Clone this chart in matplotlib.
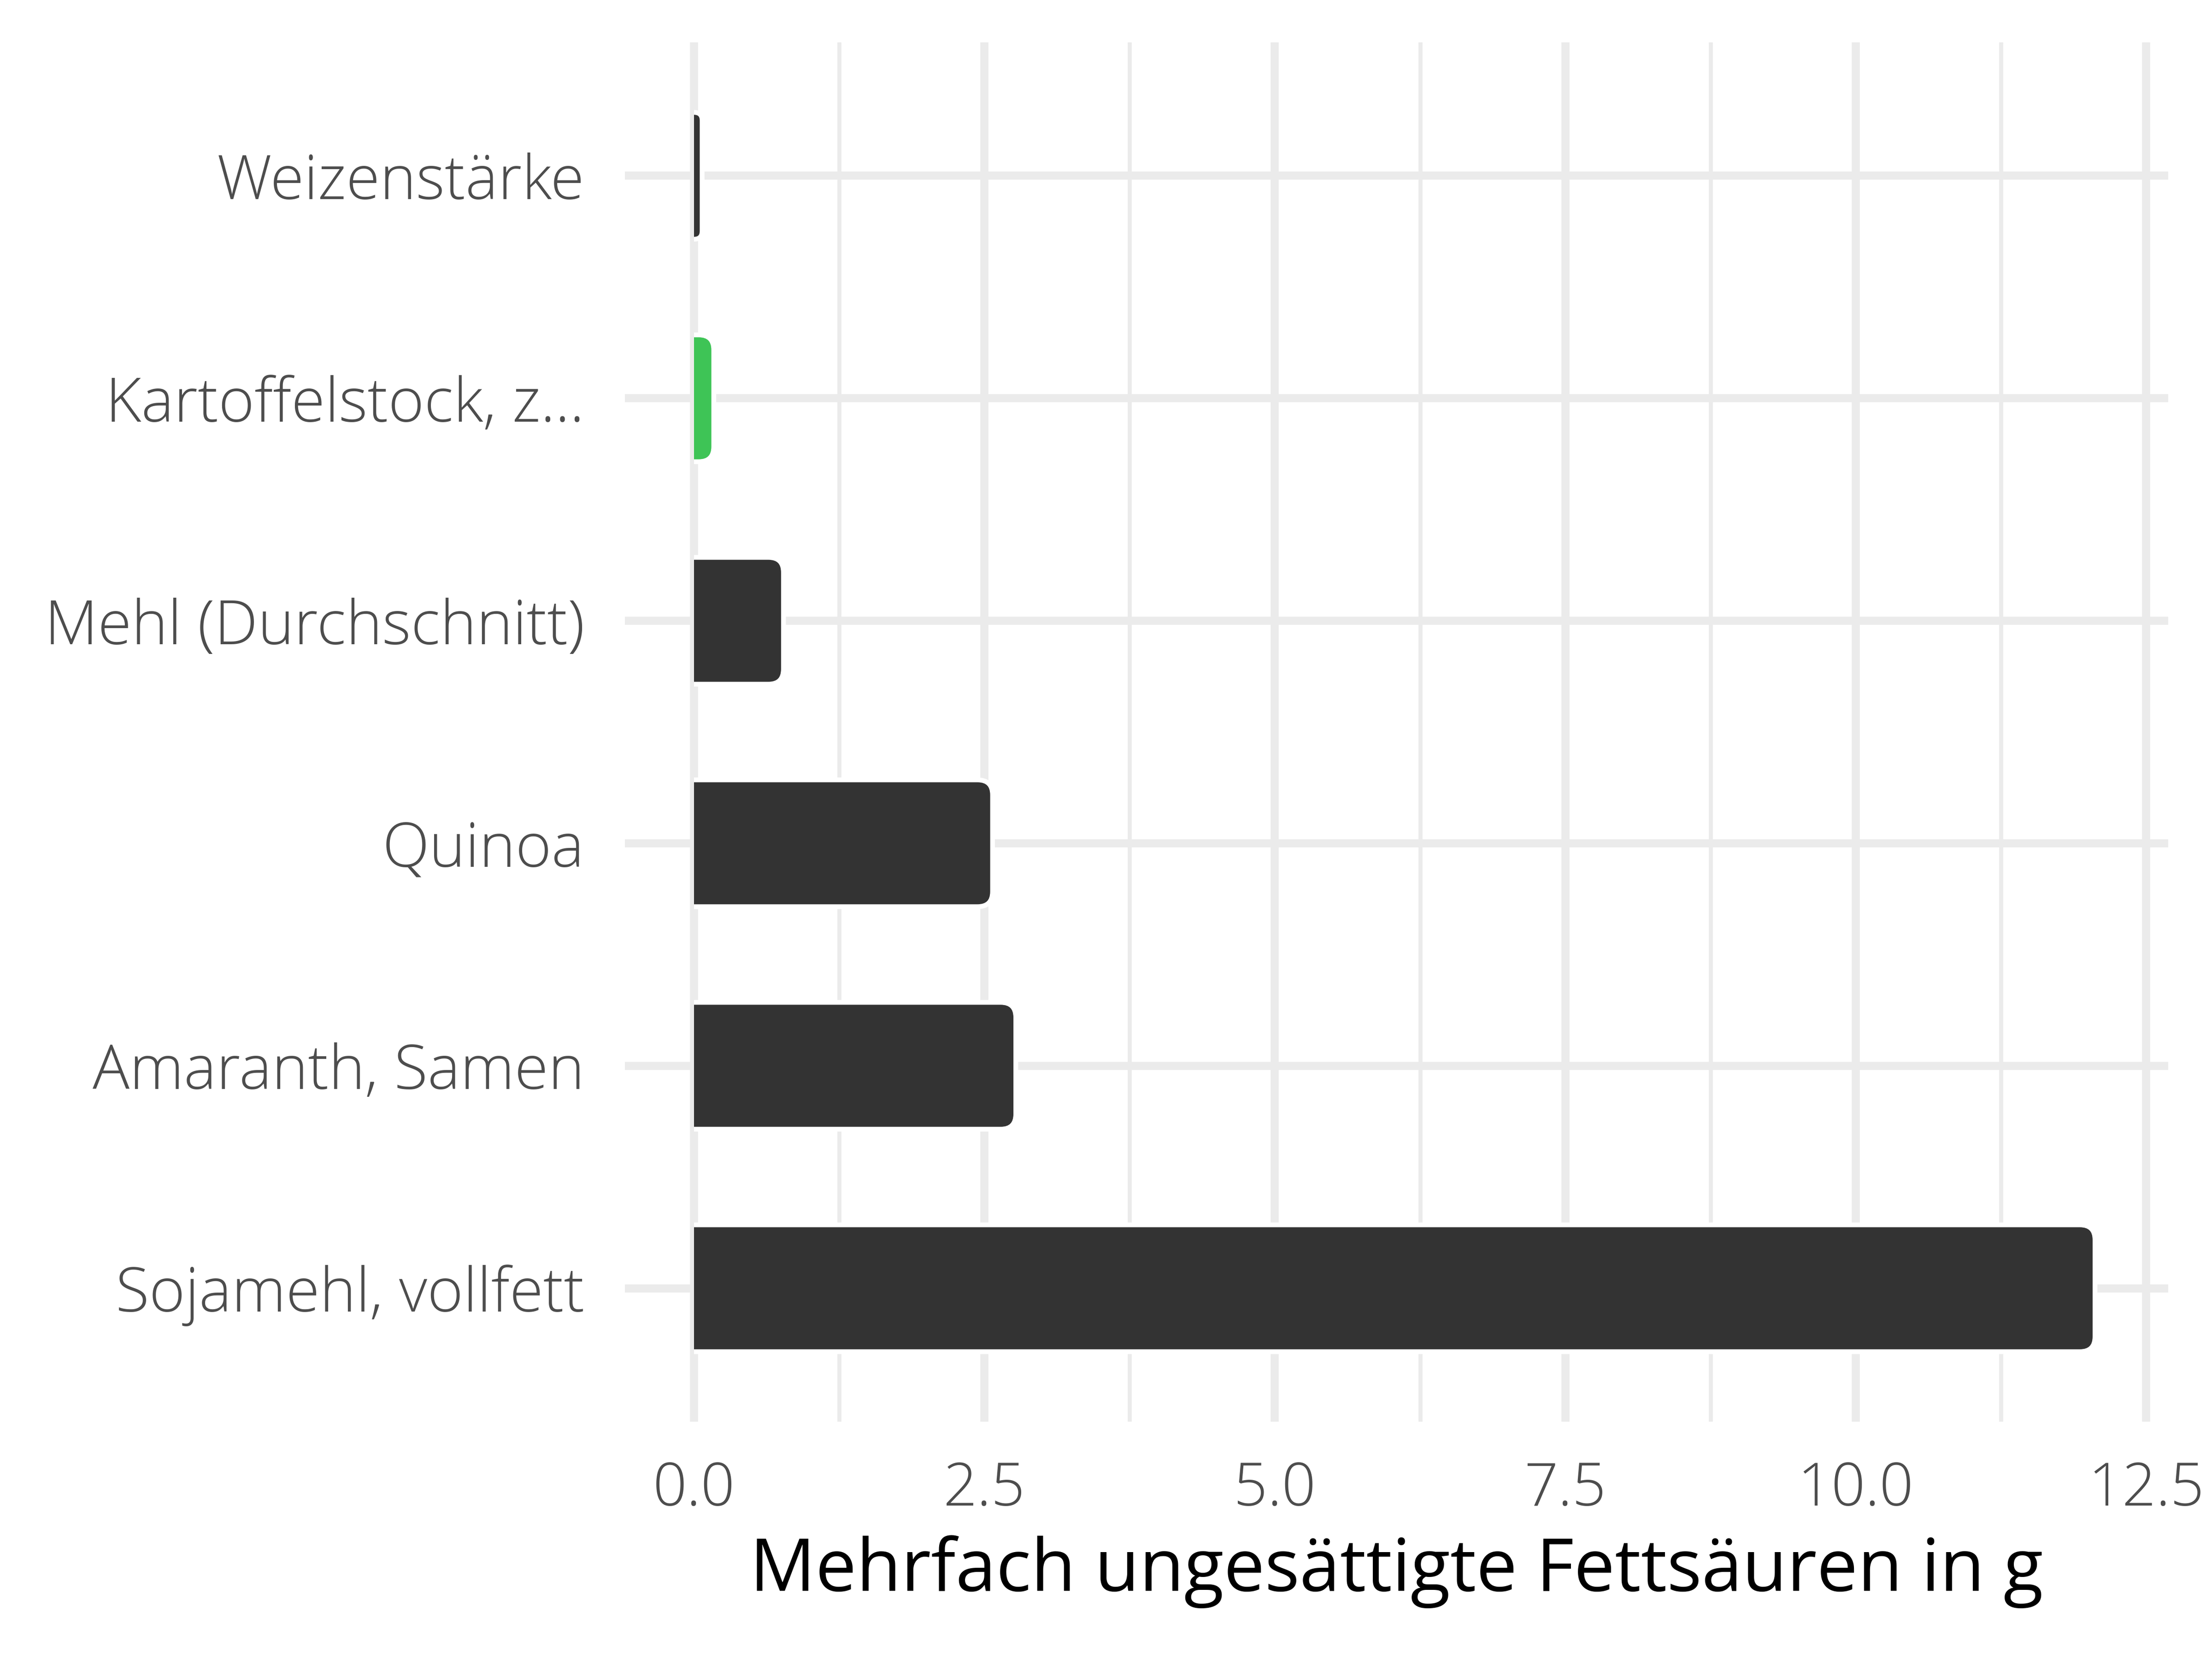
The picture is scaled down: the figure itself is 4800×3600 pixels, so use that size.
import matplotlib.pyplot as plt
from matplotlib.patches import FancyBboxPatch, Rectangle
from matplotlib.ticker import MultipleLocator

# Data (top to bottom as in the chart)
foods = ["Weizenstärke", "Kartoffelstock, z...", "Mehl (Durchschnitt)",
         "Quinoa", "Amaranth, Samen", "Sojamehl, vollfett"]
values = [0.07, 0.17, 0.77, 2.57, 2.77, 12.06]
colors = ["#333333", "#3EC456", "#333333", "#333333", "#333333", "#333333"]

plt.rcParams['font.family'] = ['Open Sans', 'DejaVu Sans']

fig = plt.figure(figsize=(16, 12), dpi=300)
ax = fig.add_axes([0.2825, 0.143, 0.6977, 0.8315])

# ggplot style: first category at bottom
ypos = list(range(len(foods), 0, -1))
bar_h = 0.57
bars = ax.barh(ypos, values, height=bar_h, color=colors)

# rounded bars, clipped flat at zero
clip = Rectangle((0, -10), 100, 100, transform=ax.transData)
rx = 0.13
aspect = 0.52
for b, c in zip(bars, colors):
    b.set_visible(False)
    x0, y0 = b.get_x(), b.get_y()
    w, h = b.get_width(), b.get_height()
    r = min(rx, w)
    p = FancyBboxPatch((x0 - r, y0), w + r, h,
                       boxstyle=f"round,pad=0,rounding_size={r}",
                       mutation_aspect=aspect,
                       facecolor=c, edgecolor="white", linewidth=2.5, zorder=3)
    ax.add_patch(p)
    p.set_clip_path(clip)

ax.set_xlim(-0.595, 12.69)
ax.set_ylim(0.4, len(foods) + 0.6)
ax.xaxis.set_minor_locator(MultipleLocator(1.25))
ax.set_xticks([0, 2.5, 5, 7.5, 10, 12.5])
ax.set_xticklabels(["0.0", "2.5", "5.0", "7.5", "10.0", "12.5"])
ax.set_yticks(ypos)
ax.set_yticklabels(foods)

ax.grid(which="major", axis="both", color="#EBEBEB", linewidth=4.2, zorder=0)
ax.grid(which="minor", axis="x", color="#EBEBEB", linewidth=2.1, zorder=0)
ax.set_axisbelow(True)
for s in ax.spines.values():
    s.set_visible(False)
ax.tick_params(which="both", length=0)
ax.tick_params(axis="y", labelsize=32, labelcolor="#4D4D4D", pad=21)
ax.tick_params(axis="x", labelsize=31, labelcolor="#4D4D4D", pad=20)
for t in ax.get_xticklabels() + ax.get_yticklabels():
    t.set_fontweight("light")

ax.set_xlabel("Mehrfach ungesättigte Fettsäuren in g", fontsize=38,
              color="black", labelpad=8)

fig.savefig("out.png", dpi=300, facecolor="white")
